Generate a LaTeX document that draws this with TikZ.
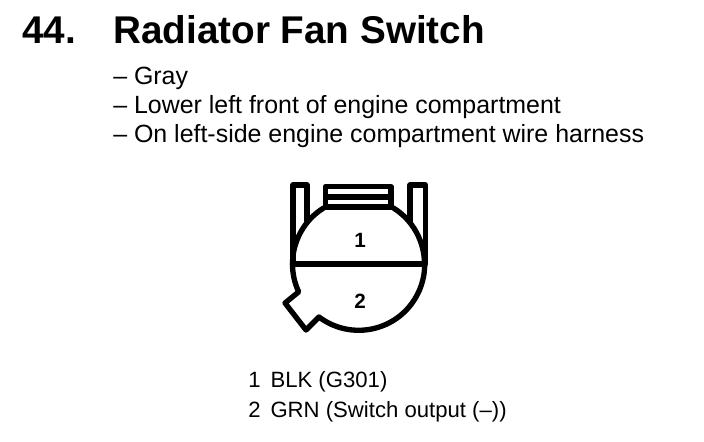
\documentclass[tikz,border=0pt]{standalone}
\usepackage{fontspec}
\setmainfont{Liberation Sans}
\tikzset{
  txt/.style={anchor=base west,inner sep=0pt,font=\fontsize{18.7pt}{20pt}\selectfont},
  legend/.style={anchor=base west,inner sep=0pt,font=\fontsize{16.6pt}{18pt}\selectfont},
  heading/.style={anchor=base west,inner sep=0pt,font=\fontsize{29pt}{32pt}\selectfont\bfseries},
  pin/.style={inner sep=0pt,font=\fontsize{15.5pt}{18pt}\selectfont\bfseries},
  wall/.style={draw=black,line width=4pt,line join=round,line cap=round}
}
\begin{document}
\begin{tikzpicture}[x=0.75pt,y=0.75pt]
    \useasboundingbox (0,0) rectangle (704,442);
    \coordinate (hub) at (358.5,178);
    %title
    \node[heading] (num) at (22,398) {44.};
    \node[heading] (title) at (113,398) {Radiator Fan Switch};
    %notes
    \node[txt] (color) at (113,357) {– Gray};
    \node[txt] (place) at (113,328) {– Lower left front of engine compartment};
    \node[txt] (harness) at (113,299) {– On left-side engine compartment wire harness};
    %body
    \draw[wall] (hub) ++(122:49.5pt) arc(122:180:49.5pt);
    \draw[wall] (hub) ++(58:49.5pt) arc(58:0:49.5pt);
    \draw[wall] (292.5,178) -- (424.5,178);
    \draw[wall] (292.5,178) arc(180:205:49.5pt) -- (285,139) -- (306,112) -- (319,125) arc(233:360:49.5pt);
    %tab
    \draw[wall] (325.5,235) -- (325.5,255.5) -- (391,255.5) -- (391,235);
    \draw[wall] (325.5,245) -- (391,245);
    \draw[wall] (325.5,235) -- (391,235);
    %clips
    \draw[wall] (293,178) -- (293,257) -- (307,257) -- (307,221);
    \draw[wall] (425.5,178) -- (425.5,257) -- (410,257) -- (410,221);
    %pins
    \node[pin] (one) at (360,202) {1};
    \node[pin] (two) at (360,141) {2};
    %wires
    \node[legend] (blk) at (248,54) {1\hspace{0.45em}BLK (G301)};
    \node[legend] (grn) at (248,24) {2\hspace{0.45em}GRN (Switch output (–))};
\end{tikzpicture}
\end{document}
